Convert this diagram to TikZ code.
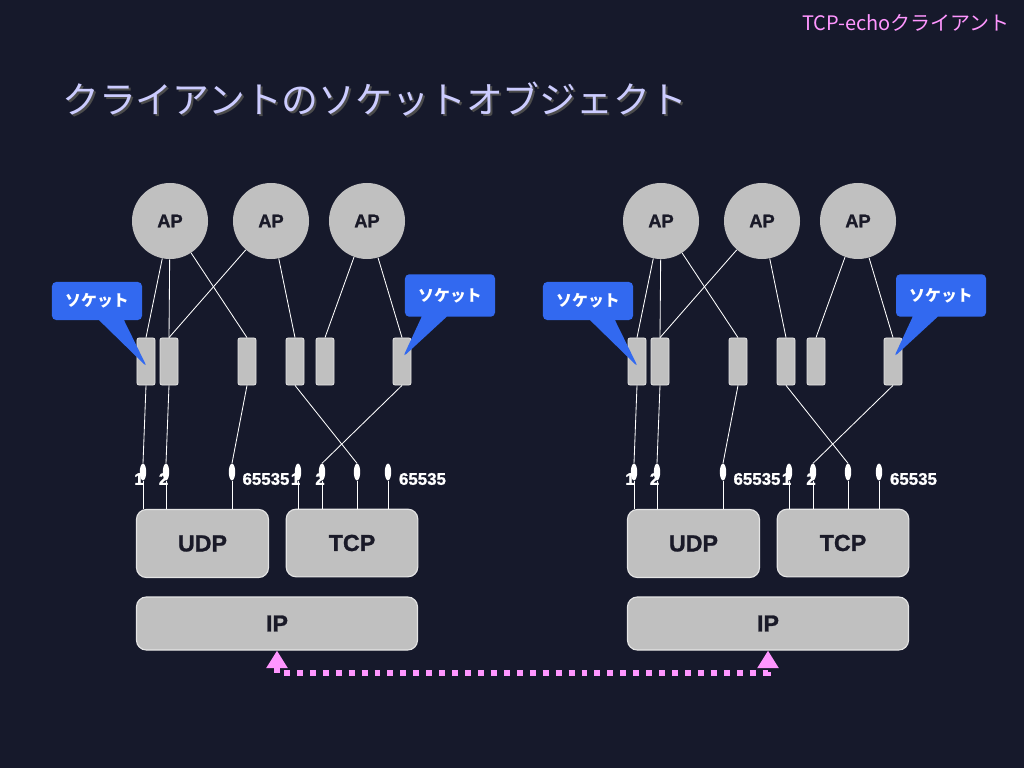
\documentclass[tikz,border=0pt]{standalone}
\usepackage{fontspec}
\setmainfont{Liberation Sans}[BoldFeatures={FakeBold=1.2}]
\newfontfamily\jp{Noto Sans CJK JP}
\usetikzlibrary{shapes.geometric,shapes.callouts,arrows.meta}
\definecolor{bgnavy}{RGB}{22,25,43}
\definecolor{boxgray}{RGB}{192,192,192}
\definecolor{edgegray}{RGB}{228,228,228}
\definecolor{darktext}{RGB}{26,26,40}
\definecolor{callblue}{RGB}{50,105,240}
\definecolor{titlelav}{RGB}{204,204,255}
\definecolor{linkpink}{RGB}{255,150,255}
\begin{document}
\begin{tikzpicture}[x=0.025cm,y=-0.025cm,
  ap/.style={circle,fill=boxgray,minimum size=1.9cm,inner sep=0,text=darktext,font=\bfseries\fontsize{13}{15}\selectfont},
  sock/.style={rectangle,rounded corners=1.5pt,fill=boxgray,draw=edgegray,line width=0.6pt,minimum width=0.45cm,minimum height=1.175cm,inner sep=0},
  port/.style={ellipse,fill=white,minimum width=0.16cm,minimum height=0.42cm,inner sep=0},
  portlbl/.style={text=white,inner sep=0,font=\bfseries\fontsize{12}{14}\selectfont},
  layer/.style={rectangle,rounded corners=7pt,fill=boxgray,draw=edgegray,line width=0.8pt,inner sep=0,text=darktext,font=\bfseries\fontsize{16.5}{18}\selectfont},
  wire/.style={white,line width=0.6pt},
  sockcall/.style={rectangle callout,fill=callblue,rounded corners=3pt,minimum width=2.25cm,callout pointer width=0.625cm,text=white,font=\jp\bfseries\fontsize{11.3}{13}\selectfont},
  link/.style={linkpink,line width=4.2pt,dash pattern=on 4.2pt off 5pt,{Triangle[width=14.5pt,length=12.5pt]}-{Triangle[width=14.5pt,length=12.5pt]}}]
  \useasboundingbox (0,0) rectangle (1024,768);
  \fill[bgnavy] (0,0) rectangle (1024,768);
  % titles
  \node[anchor=east,inner sep=0,text=linkpink,font=\jp\fontsize{14.2}{16}\selectfont] (subtitle) at (1010,23) {TCP-echoクライアント};
  \node[anchor=west,inner sep=0,text=black!70,font=\jp\fontsize{26.2}{30}\selectfont] (titleshadow) at (64,101) {クライアントのソケットオブジェクト};
  \node[anchor=west,inner sep=0,text=titlelav,font=\jp\fontsize{26.2}{30}\selectfont] (title) at (62,99) {クライアントのソケットオブジェクト};
  \foreach \side/\dx in {L/0,R/491}{
    % application processes
    \node[ap] (ap1\side) at (170+\dx,221) {AP};
    \node[ap] (ap2\side) at (271+\dx,221) {AP};
    \node[ap] (ap3\side) at (367+\dx,221) {AP};
    % sockets
    \node[sock] (s1\side) at (146+\dx,361.5) {};
    \node[sock] (s2\side) at (169+\dx,361.5) {};
    \node[sock] (s3\side) at (247+\dx,361.5) {};
    \node[sock] (s4\side) at (295+\dx,361.5) {};
    \node[sock] (s5\side) at (325+\dx,361.5) {};
    \node[sock] (s6\side) at (402+\dx,361.5) {};
    % port numbers
    \node[portlbl] (n1\side) at (139+\dx,479) {1};
    \node[portlbl] (n2\side) at (163.5+\dx,479) {2};
    \node[portlbl] (n3\side) at (266+\dx,479) {65535};
    \node[portlbl] (m1\side) at (295.5+\dx,479) {1};
    \node[portlbl] (m2\side) at (320+\dx,479) {2};
    \node[portlbl] (m4\side) at (422.5+\dx,479) {65535};
    \node[port] (u1\side) at (143+\dx,472) {};
    \node[port] (u2\side) at (166+\dx,472) {};
    \node[port] (u3\side) at (232+\dx,472) {};
    \node[port] (t1\side) at (298+\dx,472) {};
    \node[port] (t2\side) at (322+\dx,472) {};
    \node[port] (t3\side) at (357+\dx,472) {};
    \node[port] (t4\side) at (388+\dx,472) {};
    % layers
    \node[layer,minimum width=3.3cm,minimum height=1.7cm] (udp\side) at (202.5+\dx,543.5) {UDP};
    \node[layer,minimum width=3.29cm,minimum height=1.69cm] (tcp\side) at (352+\dx,543) {TCP};
    \node[layer,minimum width=7.025cm,minimum height=1.325cm] (ip\side) at (277+\dx,623.5) {IP};
    % wires
    \foreach \a/\b in {ap1/s1,ap1/s2,ap1/s3,ap2/s2,ap2/s4,ap3/s5,ap3/s6}
      \draw[wire] (\a\side) -- (\b\side.north);
    \foreach \a/\b in {s1/u1,s2/u2,s3/u3,s4/t3,s6/t2}
      \draw[wire] (\a\side.south) -- (\b\side.north);
    \foreach \prt in {u1,u2,u3}
      \draw[wire] (\prt\side.south) -- (\prt\side.south |- udp\side.north);
    \foreach \prt in {t1,t2,t3,t4}
      \draw[wire] (\prt\side.south) -- (\prt\side.south |- tcp\side.north);
    % callouts
    \node[sockcall,minimum height=0.95cm,callout absolute pointer={(147+\dx,367)}] (c1\side) at (97+\dx,301) {ソケット};
    \node[sockcall,minimum height=1.06cm,callout absolute pointer={(403+\dx,357)}] (c2\side) at (450+\dx,295.5) {ソケット};
  }
  \coordinate (linkmid) at (522,673);
  \draw[link] (ipL.south) |- (linkmid) -| (ipR.south);
\end{tikzpicture}
\end{document}
